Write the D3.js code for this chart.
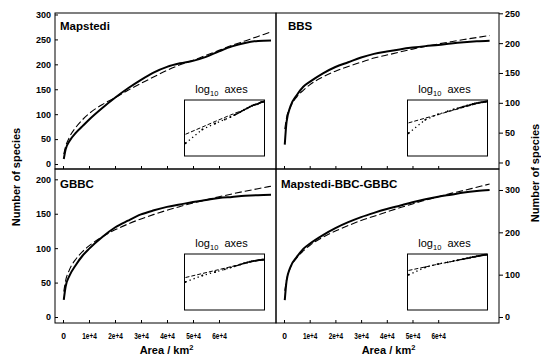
<!DOCTYPE html>
<meta charset="utf-8">
<style>
body { margin: 0; background: #fff; }
svg { font-family: "Liberation Sans", Arial, sans-serif; }
.frame { fill: none; stroke: #000; stroke-width: 1; }
.obs { fill: none; stroke: #000; stroke-width: 2; }
.fit { fill: none; stroke: #000; stroke-width: 1.1; stroke-dasharray: 7,3; }
.ax .domain { display: none; }
.ax line { stroke: #000; }
.ax text { font-weight: bold; fill: #000; }
</style>
<svg width="541" height="359"></svg>
<script src="https://cdn.jsdelivr.net/npm/d3@7"></script>
<script>
// area in km2, same sample points for all four panels
var area = [300, 1000, 2500, 5000, 7500, 10000, 15000, 20000, 25000, 30000,
            35000, 40000, 45000, 50000, 55000, 60000, 65000, 70000, 75000, 80000];

var mapstediObs = [10, 29, 46, 63, 76, 89, 112, 133, 152, 169, 184, 195, 202, 207, 215, 226, 236, 243, 247, 248];
var mapstediFit = [20, 35, 54, 74, 89, 101, 119, 133, 148, 162, 175, 188, 199, 208, 218, 228, 238, 247, 256, 265];
var bbsObs  = [30, 68, 94, 113, 127, 135, 149, 160, 168, 176, 182, 186, 189.5, 192.5, 195, 197, 199.5, 201.5, 203, 204];
var bbsFit  = [56, 75, 93, 110, 121, 130, 143, 153, 161, 168, 175, 180, 185, 190, 194.5, 198.6, 202.4, 206, 209.4, 212.7];
var gbbcObs = [25, 44, 60, 76, 89, 99, 116, 130, 140, 149, 155, 160, 163.5, 167, 170, 173, 174.5, 176, 177, 177.5];
var gbbcFit = [37, 52.6, 68.8, 84.3, 95, 103.3, 116.3, 126.6, 135.1, 142.5, 149.1, 155.1, 160.5, 165.6, 170.2, 174.6, 178.8, 182.7, 186.4, 190];
var allObs  = [40, 85, 118, 142, 161, 173, 193, 210, 224, 236, 246, 255, 263, 271, 278, 284, 289, 294, 297.5, 300];
var allFit  = [62, 88, 116, 140, 156, 169, 188, 203, 216, 228, 238, 248, 258, 267, 276, 284, 292, 299, 306.5, 314];

var panelNames = ["Mapstedi", "BBS", "GBBC", "Mapstedi-BBC-GBBC"];
var xTicks = [0, 10000, 20000, 30000, 40000, 50000, 60000];
var xTickLabels = ["0", "1e+4", "2e+4", "3e+4", "4e+4", "5e+4", "6e+4"];
var yTicksMapstedi = [0, 50, 100, 150, 200, 250, 300];
var yTicksBBS = [0, 50, 100, 150, 200, 250];
var yTicksGBBC = [0, 50, 100, 150, 200];
var yTicksAll = [0, 100, 200, 300];

var svg = d3.select("svg");

var L = 55, M = 276, R = 499, T = 13, H = 169, B = 323;

var panels = [
  {name: panelNames[0], obs: mapstediObs, fit: mapstediFit, ticks: yTicksMapstedi,
   x0: L, x1: M, y0: T, y1: H, xd: [-3077, 81920], yd: [-10, 303], side: "left", dx: 5, inset: [3.7, 286]},
  {name: panelNames[1], obs: bbsObs, fit: bbsFit, ticks: yTicksBBS,
   x0: M, x1: R, y0: T, y1: H, xd: [-3113, 83658], yd: [-10.9, 250.5], side: "right", dx: 12, inset: [7.5, 225]},
  {name: panelNames[2], obs: gbbcObs, fit: gbbcFit, ticks: yTicksGBBC,
   x0: L, x1: M, y0: H, y1: B, xd: [-3077, 81920], yd: [-8.7, 215], side: "left", dx: 5, inset: [2.1, 295]},
  {name: panelNames[3], obs: allObs, fit: allFit, ticks: yTicksAll,
   x0: M, x1: R, y0: H, y1: B, xd: [-3113, 83658], yd: [-14.2, 349.6], side: "right", dx: 5, inset: [1.2, 320]}
];

panels.forEach(function(p, i) {
  var x = d3.scaleLinear().domain(p.xd).range([p.x0, p.x1]);
  var y = d3.scaleLinear().domain(p.yd).range([p.y1, p.y0]);
  var g = svg.append("g");

  g.append("rect").attr("class", "frame")
    .attr("x", p.x0).attr("y", p.y0)
    .attr("width", p.x1 - p.x0).attr("height", p.y1 - p.y0);

  var line = d3.line()
    .x(function(d, j) { return x(area[j]); })
    .y(function(d) { return y(d); })
    .curve(d3.curveMonotoneX);

  g.append("path").attr("class", "fit").attr("d", line(p.fit));
  g.append("path").attr("class", "obs").attr("d", line(p.obs));

  // y axis
  if (p.side == "left") {
    g.append("g").attr("class", "ax")
      .attr("transform", "translate(" + p.x0 + ",0)")
      .call(d3.axisLeft(y).tickValues(p.ticks).tickSize(-3).tickPadding(4))
      .selectAll("text").style("font-size", "9px");
  } else {
    g.append("g").attr("class", "ax")
      .attr("transform", "translate(" + p.x1 + ",0)")
      .call(d3.axisRight(y).tickValues(p.ticks).tickSize(4).tickPadding(2))
      .selectAll("text").style("font-size", "9px");
  }

  // x axis (ticks on both rows, labels only at the bottom)
  var xa = g.append("g").attr("class", "ax")
    .attr("transform", "translate(0," + p.y1 + ")")
    .call(d3.axisBottom(x).tickValues(xTicks).tickSize(-3).tickPadding(10)
      .tickFormat(function(d, k) { return xTickLabels[k]; }));
  if (i < 2) {
    xa.selectAll("text").remove();
  } else {
    xa.selectAll("text").style("font-size", "8.5px")
      .each(function(d) {
        if (d > 0) d3.select(this).attr("textLength", 14.5).attr("lengthAdjust", "spacingAndGlyphs");
      });
    g.append("text")
      .attr("x", (p.x0 + p.x1) / 2 + 1).attr("y", 354)
      .attr("text-anchor", "middle")
      .style("font-size", "11px").style("font-weight", "bold")
      .text("Area / km")
      .append("tspan").attr("dy", -4).style("font-size", "7.5px").text("2");
  }

  g.append("text")
    .attr("x", p.x0 + p.dx).attr("y", p.y0 + (i < 2 ? 16.5 : 19))
    .style("font-size", "11.5px").style("font-weight", "bold")
    .text(p.name);

  // log10 inset
  var iw = 80, ih = 56;
  var ix = p.x1 - 11.5 - iw, iy = p.y1 - 13 - ih;
  var xl = d3.scaleLog().domain([area[0], area[area.length - 1]]).range([ix + 1, ix + iw - 1]);
  var yl = d3.scaleLog().domain(p.inset).range([iy + ih, iy]);
  var ll = d3.line()
    .x(function(d) { return xl(d[0]); })
    .y(function(d) { return yl(d[1]); });

  g.append("rect").attr("class", "frame")
    .attr("x", ix).attr("y", iy).attr("width", iw).attr("height", ih);

  var fitPts = area.map(function(a, j) { return [a, p.fit[j]]; });
  var obsPts = area.map(function(a, j) { return [a, p.obs[j]]; });

  g.append("path").attr("d", ll(fitPts))
    .attr("fill", "none").attr("stroke", "#000")
    .attr("stroke-width", 1).attr("stroke-dasharray", "4,2");
  // sparse small areas show as dots, the rest as a line
  g.append("path").attr("d", ll(obsPts.filter(function(d) { return d[0] <= 10000; })))
    .attr("fill", "none").attr("stroke", "#000")
    .attr("stroke-width", 1.3).attr("stroke-dasharray", "1.3,3");
  g.append("path").attr("d", ll(obsPts.filter(function(d) { return d[0] >= 10000; })))
    .attr("fill", "none").attr("stroke", "#000").attr("stroke-width", 1.4);
  g.selectAll(".dot").data(obsPts).enter().append("circle")
    .attr("cx", function(d) { return xl(d[0]); })
    .attr("cy", function(d) { return yl(d[1]); })
    .attr("r", 1).attr("fill", "#000");

  var lt = g.append("text")
    .attr("x", ix + iw / 2 - 3).attr("y", iy - 7)
    .attr("text-anchor", "middle")
    .style("font-size", "11px");
  lt.append("tspan").text("log");
  lt.append("tspan").attr("dy", 3).style("font-size", "7.5px").text("10");
  lt.append("tspan").attr("dy", -3).text("\u00a0 axes");
});

// axis titles
svg.append("text")
  .attr("transform", "translate(19.5,177) rotate(-90)")
  .attr("text-anchor", "middle")
  .style("font-size", "11px").style("font-weight", "bold")
  .text("Number of species");
svg.append("text")
  .attr("transform", "translate(539,173) rotate(-90)")
  .attr("text-anchor", "middle")
  .style("font-size", "11px").style("font-weight", "bold")
  .text("Number of species");
</script>
